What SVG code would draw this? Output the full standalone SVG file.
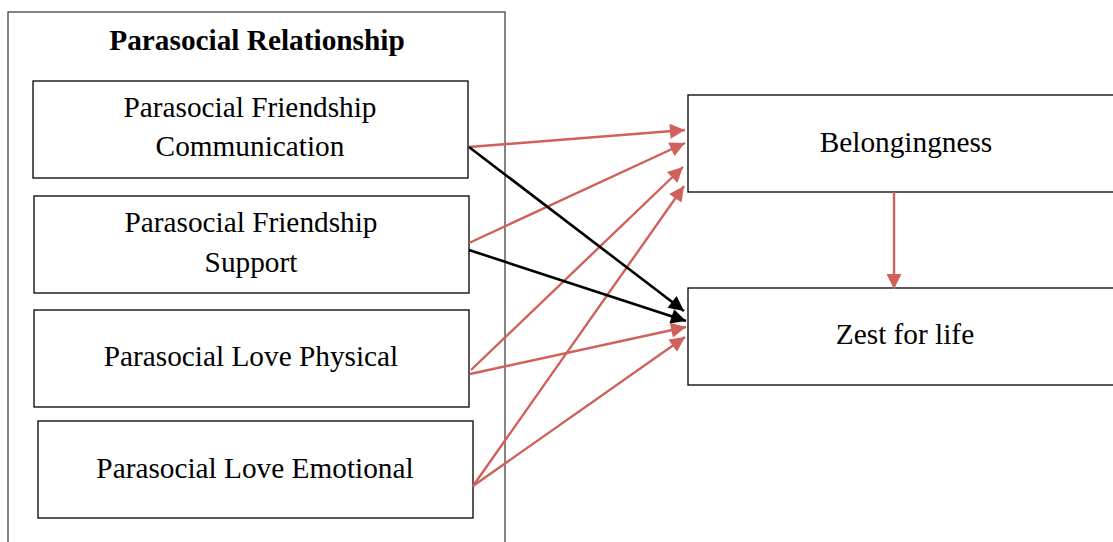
<svg xmlns="http://www.w3.org/2000/svg" width="1113" height="542" viewBox="0 0 1113 542">
<defs>
<style>
.box{fill:#fff;stroke:#000;stroke-width:1.3}
.outer{fill:#fff;stroke:#444;stroke-width:1.3}
.t{font-family:"Liberation Serif","Times New Roman",serif;font-size:29.3px;fill:#000;text-anchor:middle}
.title{font-weight:bold;font-size:29.3px}
.red{stroke:#d0605a;stroke-width:2.4;fill:none}
.blk{stroke:#000;stroke-width:2.6;fill:none}
</style>
<marker id="ar" viewBox="0 0 10 10" refX="10" refY="5" markerWidth="18" markerHeight="15" markerUnits="userSpaceOnUse" orient="auto">
<path d="M0,0 L10,5 L0,10 z" fill="#d0605a"/>
</marker>
<marker id="ab" viewBox="0 0 10 10" refX="10" refY="5" markerWidth="18" markerHeight="15" markerUnits="userSpaceOnUse" orient="auto">
<path d="M0,0 L10,5 L0,10 z" fill="#000"/>
</marker>
</defs>
<rect width="1113" height="542" fill="#fff"/>
<g id="group-parasocial">
<rect class="outer" x="8" y="12" width="497" height="540"/>
<text class="t title" x="257" y="50">Parasocial Relationship</text>
</g>
<g id="node-communication">
<rect class="box" x="33" y="81" width="435" height="97"/>
<text class="t" x="250" y="117">Parasocial Friendship</text>
<text class="t" x="250" y="156">Communication</text>
</g>
<g id="node-support">
<rect class="box" x="34" y="196" width="435" height="97"/>
<text class="t" x="251" y="232">Parasocial Friendship</text>
<text class="t" x="251" y="272">Support</text>
</g>
<g id="node-physical">
<rect class="box" x="34" y="310" width="435" height="97"/>
<text class="t" x="251" y="366">Parasocial Love Physical</text>
</g>
<g id="node-emotional">
<rect class="box" x="38" y="421" width="435" height="97"/>
<text class="t" x="255" y="478">Parasocial Love Emotional</text>
</g>
<g id="node-belongingness">
<rect class="box" x="688" y="95" width="440" height="97"/>
<text class="t" x="906" y="152">Belongingness</text>
</g>
<g id="node-zest">
<rect class="box" x="688" y="288" width="440" height="97"/>
<text class="t" x="905" y="344">Zest for life</text>
</g>
<g id="connectors">
<line class="red" x1="469" y1="147" x2="685" y2="130" marker-end="url(#ar)"/>
<line class="red" x1="469" y1="243" x2="685" y2="143" marker-end="url(#ar)"/>
<line class="red" x1="471" y1="370" x2="683" y2="167" marker-end="url(#ar)"/>
<line class="red" x1="473" y1="486" x2="684" y2="186" marker-end="url(#ar)"/>
<line class="blk" x1="469" y1="147" x2="684" y2="311" marker-end="url(#ab)"/>
<line class="blk" x1="469" y1="250" x2="686" y2="321" marker-end="url(#ab)"/>
<line class="red" x1="470" y1="374" x2="686" y2="327" marker-end="url(#ar)"/>
<line class="red" x1="473" y1="486" x2="685" y2="337" marker-end="url(#ar)"/>
<line class="red" x1="894" y1="192" x2="894" y2="289" marker-end="url(#ar)"/>
</g>
</svg>
